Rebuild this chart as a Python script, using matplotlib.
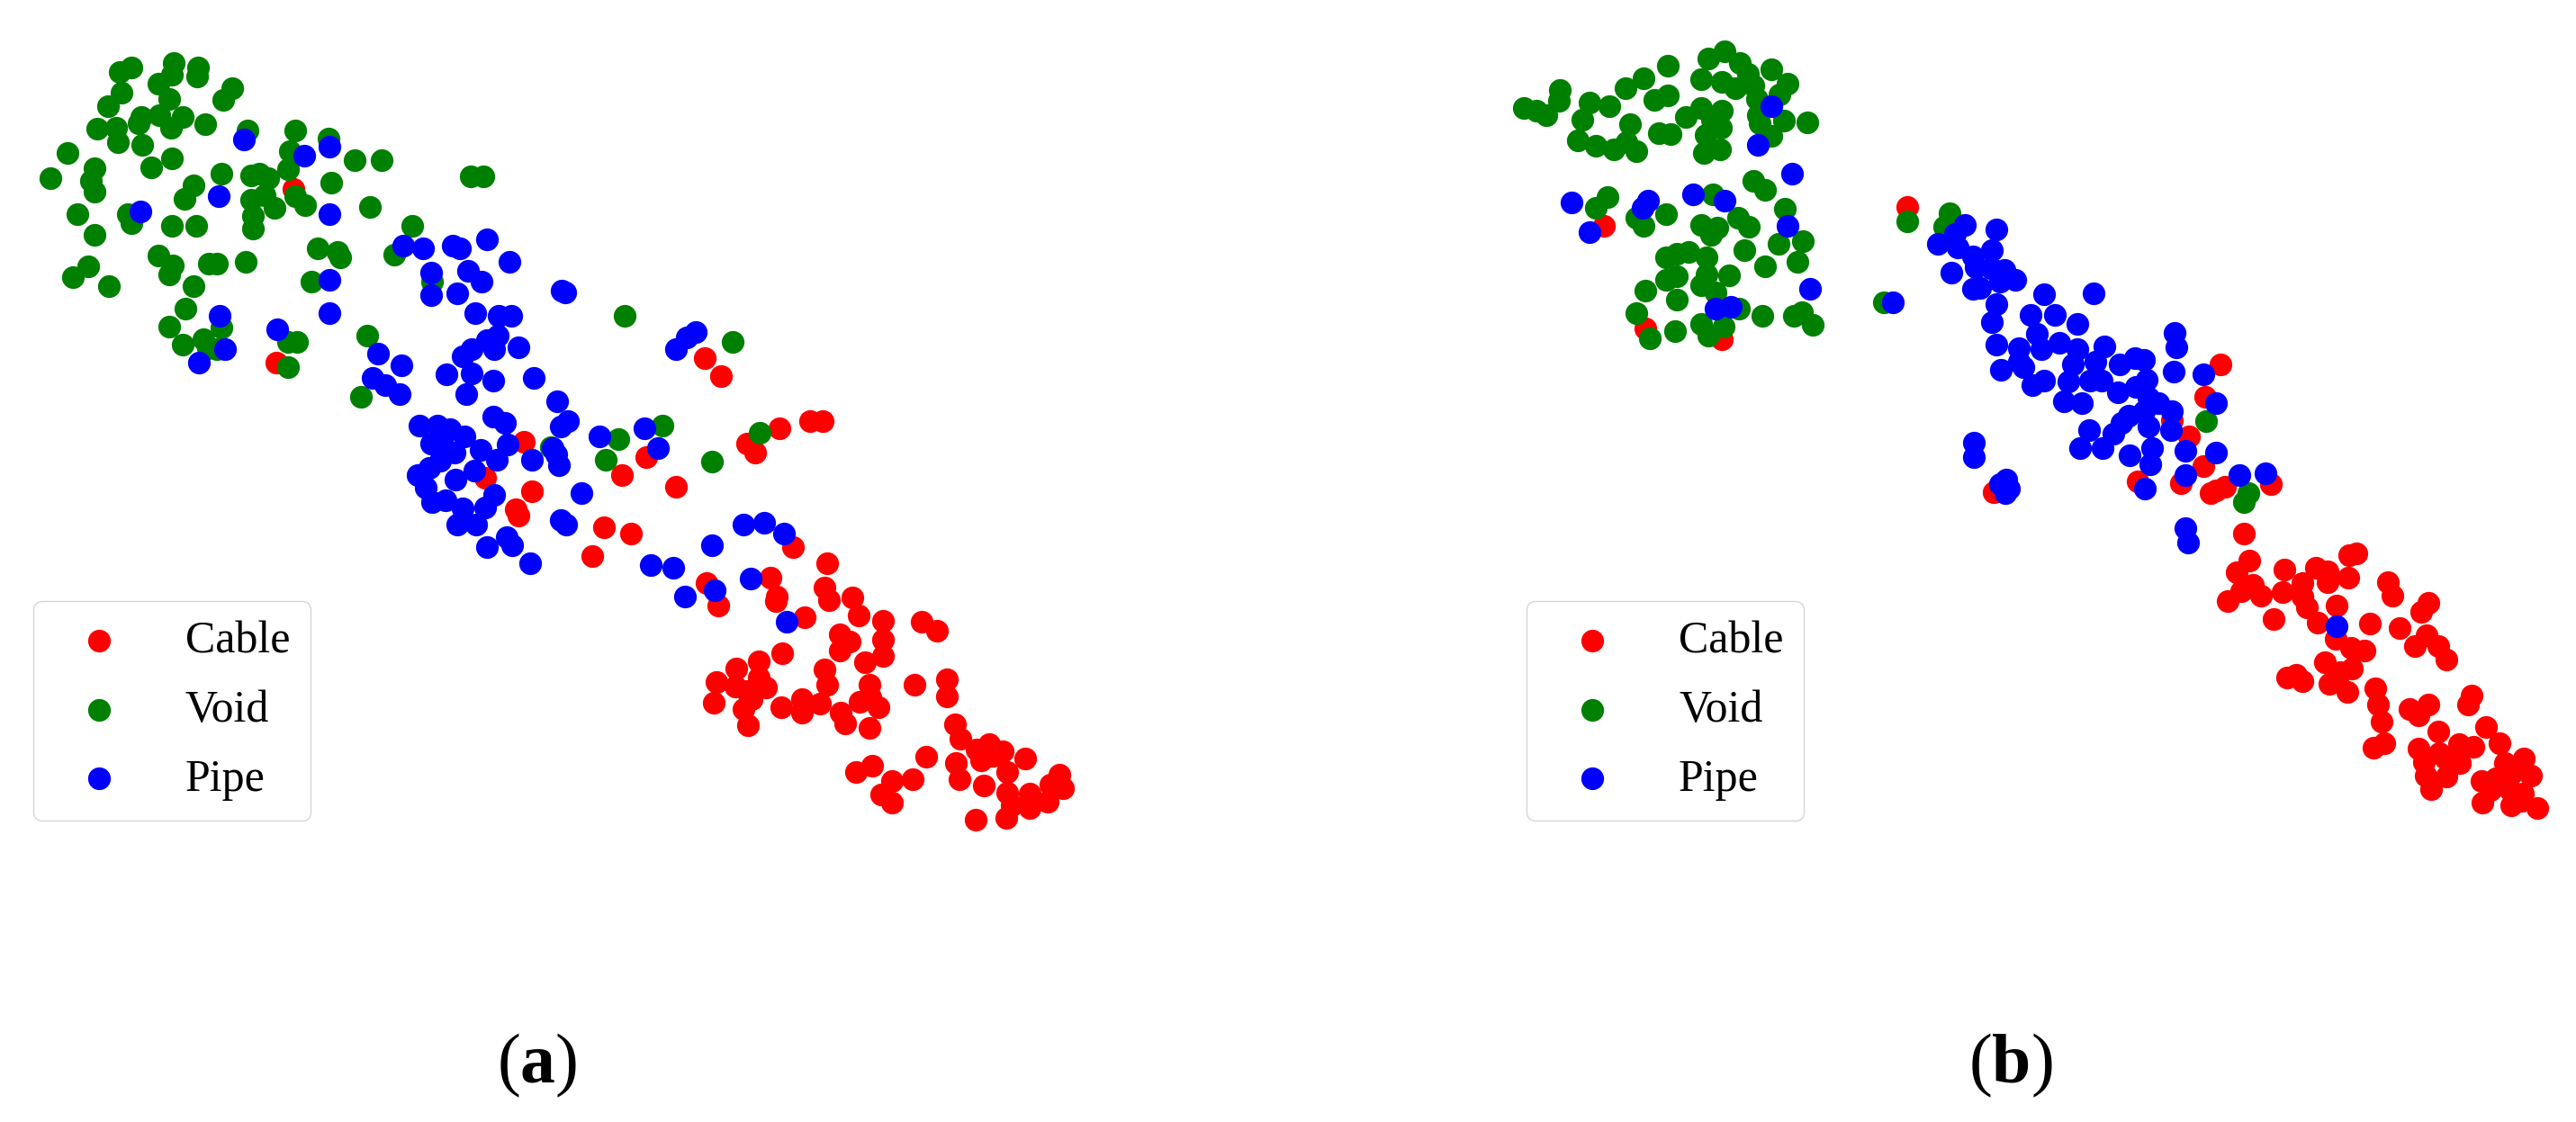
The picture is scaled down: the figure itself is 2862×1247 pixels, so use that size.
import matplotlib
matplotlib.use("Agg")
import matplotlib.pyplot as plt

plt.rcParams["font.family"] = ["Liberation Serif", "DejaVu Serif"]
plt.rcParams["mathtext.fontset"] = "custom"
plt.rcParams["mathtext.bf"] = "Liberation Serif:bold"
plt.rcParams["mathtext.rm"] = "Liberation Serif"

#=================
#data (embedding coordinates)
#=================
class_names = ["Cable", "Void", "Pipe"]
class_colors = ["red", "green", "blue"]
panel_labels = [r"($\mathbf{a}$)", r"($\mathbf{b}$)"]

a_cable = [
    (326,210),(307,403),(783,398),(801,418),(866,476),(900,468),(914,468),(830,493),(839,503),(582,491),
    (718,508),(691,528),(751,541),(539,531),(591,546),(573,566),(576,573),(671,586),(701,593),(658,618),
    (881,608),(919,626),(785,648),(798,673),(856,642),(863,663),(862,668),(916,653),(921,667),(947,664),
    (954,684),(894,686),(981,690),(1024,691),(1041,701),(933,705),(944,713),(933,723),(981,711),(981,729),
    (961,736),(869,726),(843,735),(818,743),(916,744),(843,753),(796,758),(919,761),(966,761),(1016,761),
    (1052,755),(1052,774),(851,764),(817,763),(830,768),(835,777),(793,781),(826,788),(831,806),(868,786),
    (891,777),(891,792),(911,782),(955,780),(967,775),(976,786),(934,792),(939,804),(966,809),(1061,805),
    (1067,821),(1029,841),(1062,848),(1066,866),(1085,833),(1099,827),(1114,835),(1090,845),(1103,840),
    (1119,858),(1139,843),(1093,873),(1119,881),(1144,882),(1177,861),(1167,872),(1181,876),(1164,891),
    (1144,898),(1124,895),(1118,909),(1084,911),(969,851),(951,858),(991,868),(1014,866),(979,883),(991,892),
]
a_void = [
    (146,75),(133,80),(193,70),(191,83),(220,75),(219,85),(176,93),(135,103),(120,118),(188,110),
    (258,98),(248,111),(157,130),(154,137),(177,128),(203,130),(190,142),(228,138),(108,143),(129,142),
    (131,158),(158,161),(275,145),(328,145),(365,154),(322,168),(394,178),(424,178),(75,170),(105,187),
    (191,176),(168,186),(56,198),(101,201),(105,213),(246,193),(215,206),(205,221),(279,195),(288,193),
    (298,198),(320,188),(368,203),(279,222),(294,217),(305,231),(328,218),(339,228),(411,230),(523,196),
    (537,196),(86,238),(142,238),(146,248),(191,251),(218,251),(281,240),(281,254),(458,251),(105,261),
    (176,284),(192,295),(188,305),(232,293),(241,293),(273,291),(353,276),(375,280),(378,286),(438,283),
    (98,296),(81,308),(121,318),(346,313),(215,318),(206,343),(480,313),(188,363),(246,364),(408,373),
    (203,383),(226,377),(231,387),(241,388),(320,380),(330,380),(320,408),(401,441),(694,351),(814,380),
    (736,473),(687,488),(673,511),(612,497),(844,481),(791,513),
]
a_pipe = [
    (271,155),(338,173),(366,163),(243,218),(156,235),(366,238),(448,273),(470,276),(503,273),(511,276),
    (541,266),(566,291),(479,303),(520,301),(535,313),(366,311),(479,328),(508,326),(624,323),(628,325),
    (244,351),(366,348),(528,348),(554,351),(568,351),(308,366),(250,388),(221,403),(420,393),(446,406),
    (414,420),(428,428),(444,438),(553,373),(541,378),(549,388),(576,386),(524,388),(514,396),(524,415),
    (496,416),(548,423),(518,438),(593,420),(619,446),(631,468),(623,474),(548,463),(561,470),(466,473),
    (486,473),(500,477),(516,485),(479,493),(491,490),(505,503),(534,500),(564,494),(552,511),(591,511),
    (614,498),(618,505),(621,517),(666,485),(716,476),(731,498),(489,512),(477,520),(464,528),(473,542),
    (480,558),(495,556),(527,523),(506,533),(549,550),(539,564),(514,565),(508,583),(529,583),(646,548),
    (623,578),(629,583),(541,608),(563,597),(569,606),(589,626),(773,369),(763,375),(751,388),(826,583),
    (849,581),(871,593),(791,606),(723,628),(748,631),(834,643),(761,663),(794,656),(874,691),
]

b_cable = [
    (2119,230),(1782,251),(1828,365),(1913,377),(2467,405),(2450,441),(2413,467),(2432,485),(2448,518),
    (2423,537),(2375,535),(2523,538),(2456,548),(2472,541),(2462,545),(2493,593),(2215,547),(2499,623),
    (2485,636),(2538,633),(2573,631),(2586,635),(2618,615),(2610,617),(2609,642),(2586,647),(2558,648),
    (2503,650),(2490,657),(2512,662),(2536,658),(2475,668),(2558,663),(2563,675),(2596,673),(2526,688),
    (2575,692),(2633,693),(2653,647),(2658,662),(2698,670),(2690,680),(2666,698),(2696,706),(2683,718),
    (2709,718),(2718,733),(2595,710),(2612,720),(2627,723),(2583,736),(2613,743),(2600,747),(2588,760),
    (2608,769),(2597,757),(2541,753),(2551,750),(2558,757),(2639,765),(2642,783),(2646,802),(2746,773),
    (2742,783),(2677,788),(2698,783),(2687,795),(2709,813),(2649,826),(2637,831),(2687,832),(2732,827),
    (2762,808),(2748,830),(2777,826),(2710,837),(2693,847),(2733,848),(2717,843),(2783,848),(2804,843),
    (2812,862),(2695,862),(2718,863),(2701,877),(2757,868),(2773,865),(2790,860),(2767,878),(2803,882),
    (2758,892),(2790,895),(2802,890),(2819,898),(2788,877),
]
b_void = [
    (1853,73),(1898,65),(1916,57),(1933,70),(1890,88),(1913,91),(1928,98),(1942,82),(1948,95),(1968,77),
    (1986,93),(1977,105),(1952,110),(1826,87),(1806,98),(1733,100),(1732,112),(1693,120),(1707,123),
    (1718,128),(1766,114),(1788,118),(1758,133),(1838,111),(1853,106),(1873,130),(1890,120),(1913,123),
    (1902,133),(1912,142),(1811,138),(1843,148),(1856,149),(1895,150),(1953,128),(1982,134),(2008,136),
    (1968,151),(1955,137),(1753,156),(1773,162),(1793,166),(1818,168),(1807,158),(1893,170),(1911,166),
    (1948,201),(1961,211),(1903,216),(1786,219),(1773,231),(1983,232),(1851,238),(1818,242),(1826,251),
    (1931,242),(1943,252),(1890,250),(1908,253),(1901,261),(2003,268),(1976,271),(1938,278),(1851,286),
    (1863,282),(1876,280),(1896,286),(1961,296),(1997,291),(1863,307),(1851,311),(1896,305),(1921,306),
    (1890,317),(1828,323),(1906,325),(1863,333),(1818,348),(1932,343),(1958,351),(1993,351),(2002,347),
    (2014,361),(1861,368),(1890,360),(1915,363),(1898,373),(1833,376),(2093,336),(2119,246),(2166,237),
    (2160,252),(2451,468),(2498,548),(2493,558),
]
b_pipe = [
    (1968,118),(1953,161),(1991,193),(1746,225),(1831,223),(1825,231),(1881,216),(1916,223),(1986,251),
    (1766,258),(2011,321),(1906,343),(1923,341),(2103,336),(2218,255),(2183,250),(2172,260),(2153,271),
    (2175,275),(2213,278),(2192,285),(2168,303),(2195,297),(2212,298),(2227,300),(2239,311),(2222,313),
    (2192,321),(2200,320),(2218,338),(2213,358),(2271,327),(2326,326),(2256,350),(2283,350),(2308,360),
    (2263,371),(2218,383),(2243,387),(2268,388),(2288,381),(2308,388),(2338,385),(2416,370),(2418,386),
    (2243,402),(2248,408),(2223,411),(2303,405),(2328,402),(2355,405),(2372,398),(2382,400),(2415,413),
    (2448,416),(2385,422),(2258,428),(2271,423),(2298,424),(2322,423),(2335,423),(2373,430),(2353,436),
    (2293,446),(2313,448),(2387,442),(2398,448),(2462,448),(2413,457),(2382,457),(2365,462),(2357,470),
    (2387,474),(2412,478),(2321,478),(2348,482),(2311,498),(2336,498),(2391,498),(2366,506),(2428,501),
    (2462,503),(2389,516),(2428,528),(2488,528),(2517,526),(2383,543),(2193,492),(2193,508),(2229,533),
    (2222,538),(2232,543),(2228,548),(2428,587),(2431,603),(2596,696),
]


def plot_panel(ax, panel_data, x_range, legend_left, label, label_x):
    for points, name, color in zip(panel_data, class_names, class_colors):
        ax.scatter(
            [p[0] for p in points],
            [p[1] for p in points],
            s=330,
            c=color,
            linewidths=0,
            label=name
        )

    ax.set_xlim(x_range)
    ax.set_ylim(1247, 0)
    ax.axis("off")

    ax.legend(
        loc="lower left",
        bbox_to_anchor=(legend_left / 2862, 1 - 912 / 1247),
        bbox_transform=fig.transFigure,
        fontsize=36,
        borderaxespad=0,
        borderpad=0.45,
        handlelength=2.0,
        handletextpad=0.93,
        labelspacing=0.6,
        scatterpoints=1
    )

    ax.text(label_x, 1184, label, fontsize=56, ha="center", va="center", color="black")


#=================
#plot
#=================
fig = plt.figure(figsize=(28.62, 12.47), dpi=100)

ax_a = fig.add_axes([0, 0, 0.5, 1])
ax_b = fig.add_axes([0.5, 0, 0.5, 1])

plot_panel(ax_a, [a_cable, a_void, a_pipe], (0, 1431), 37, panel_labels[0], 597)
plot_panel(ax_b, [b_cable, b_void, b_pipe], (1431, 2862), 1696, panel_labels[1], 2234)

fig.savefig("out.png", dpi=100)
plt.close(fig)
